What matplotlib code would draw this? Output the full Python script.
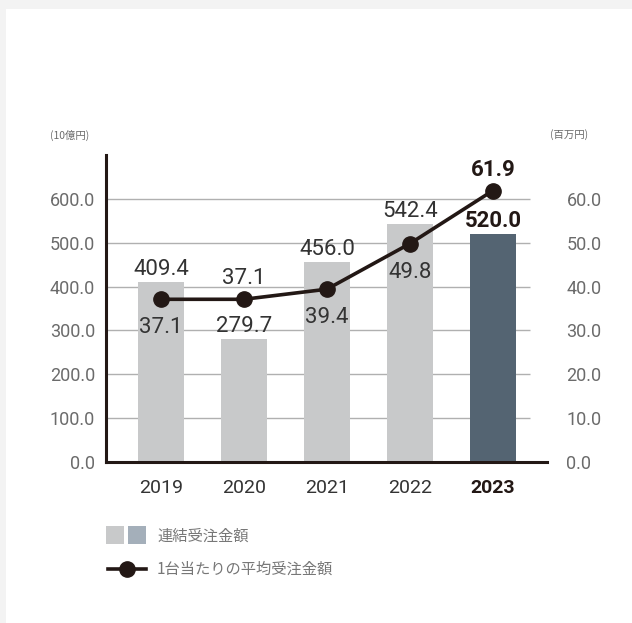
import numpy as np
import matplotlib.pyplot as plt
from matplotlib.patches import Rectangle
from matplotlib.lines import Line2D

years      = ['2019', '2020', '2021', '2022', '2023']
orders     = [409.4, 279.7, 456.0, 542.4, 520.0]      # 連結受注金額 (10億円)
per_unit   = [37.1, 37.1, 39.4, 49.8, 61.9]           # 1台当たりの平均受注金額 (百万円)
label_above = [False, True, False, False, True]       # line label above / below marker
left_ticks = [0, 100, 200, 300, 400, 500, 600]
right_ticks = [0, 10, 20, 30, 40, 50, 60]

bar_col   = '#c8c9ca'
last_col  = '#546472'
line_col  = '#231815'
tick_col  = '#6b6b6b'
num_font  = ['Roboto', 'DejaVu Sans']
jp_font   = ['Noto Sans CJK JP', 'DejaVu Sans']

fig = plt.figure(figsize=(6.32, 6.23), dpi=100)
fig.patch.set_facecolor('#f3f3f3')
fig.patches.append(Rectangle((6/632, 0), 1, 1 - 9/623, transform=fig.transFigure,
                             facecolor='white', edgecolor='none', zorder=0))

ax = fig.add_axes([106/632, 1-462/623, 441/632, 307/623])
ax.set_facecolor('none')
ax2 = ax.twinx()
ax.set_zorder(2)
ax2.set_zorder(1)

x = np.arange(len(years))
xl = (-0.66, 4.65)
ax.set_xlim(xl)
ax.set_ylim(0, 700)
ax2.set_ylim(0, 70)

# grid lines
ax2.hlines(right_ticks[1:], xl[0], 4.45, color='#b0b0b0', lw=1.0, zorder=0)

cols = [bar_col]*4 + [last_col]
ax.bar(x, orders, width=0.55, color=cols, zorder=2)
ax.plot(x, np.array(per_unit)*10, color=line_col, lw=2.6, marker='o', ms=11, zorder=3)

for s in ['top', 'right']:
    ax.spines[s].set_visible(False)
    ax2.spines[s].set_visible(False)
for s in ['left', 'bottom']:
    ax2.spines[s].set_visible(False)
ax.spines['left'].set_linewidth(2.2)
ax.spines['bottom'].set_linewidth(2.2)
ax.spines['left'].set_color(line_col)
ax.spines['bottom'].set_color(line_col)

ax.set_yticks(left_ticks)
ax.set_yticklabels([f'{v:.1f}' for v in left_ticks], fontsize=13, color=tick_col, family=num_font)
ax2.set_yticks(right_ticks)
ax2.set_yticklabels([f'{v:.1f}' for v in right_ticks], fontsize=13, color=tick_col, family=num_font)
ax.tick_params(axis='y', length=0, pad=8)
ax2.tick_params(axis='y', length=0, pad=14)
ax.set_xticks(x)
ax.set_xticklabels(years, fontsize=14, color='#333333', family=num_font)
ax.get_xticklabels()[-1].set_fontweight('bold')
ax.get_xticklabels()[-1].set_color(line_col)
ax.tick_params(axis='x', length=0, pad=12)

# value labels
kw = dict(ha='center', va='baseline', fontsize=16, family=num_font, zorder=5,
          textcoords='offset pixels')
for i, v in enumerate(orders):
    bold = i == len(orders) - 1
    ax.annotate(f'{v:.1f}', (i, v), xytext=(0, 7), fontweight='bold' if bold else 'normal',
                color=line_col if bold else '#333333', **kw)
for i, v in enumerate(per_unit):
    bold = i == len(per_unit) - 1
    dy = 15 if label_above[i] else -34
    ax.annotate(f'{v:.1f}', (i, v*10), xytext=(0, dy), fontweight='bold' if bold else 'normal',
                color=line_col if bold else '#333333', **kw)

fig.text(50/632, 1-135/623, '(10億円)', fontsize=7.5, color=tick_col, family=jp_font, va='center')
fig.text(550/632, 1-135/623, '(百万円)', fontsize=7.5, color=tick_col, family=jp_font, va='center')

# legend
fig.patches.append(Rectangle((106/632, 1-544/623), 18/632, 18/623, transform=fig.transFigure,
                             facecolor=bar_col, edgecolor='none'))
fig.patches.append(Rectangle((128/632, 1-544/623), 18/632, 18/623, transform=fig.transFigure,
                             facecolor='#a4afba', edgecolor='none'))
fig.text(157/632, 1-536/623, '連結受注金額', fontsize=11, color='#777777', family=jp_font, va='center')
fig.lines.append(Line2D([108/632, 146/632], [1-569/623]*2, transform=fig.transFigure,
                        color=line_col, lw=2.6))
fig.lines.append(Line2D([127/632], [1-569/623], transform=fig.transFigure,
                        color=line_col, marker='o', ms=11))
fig.text(157/632, 1-569/623, '1台当たりの平均受注金額', fontsize=11, color='#777777', family=jp_font, va='center')

fig.savefig('out.png', dpi=100, facecolor=fig.get_facecolor())
